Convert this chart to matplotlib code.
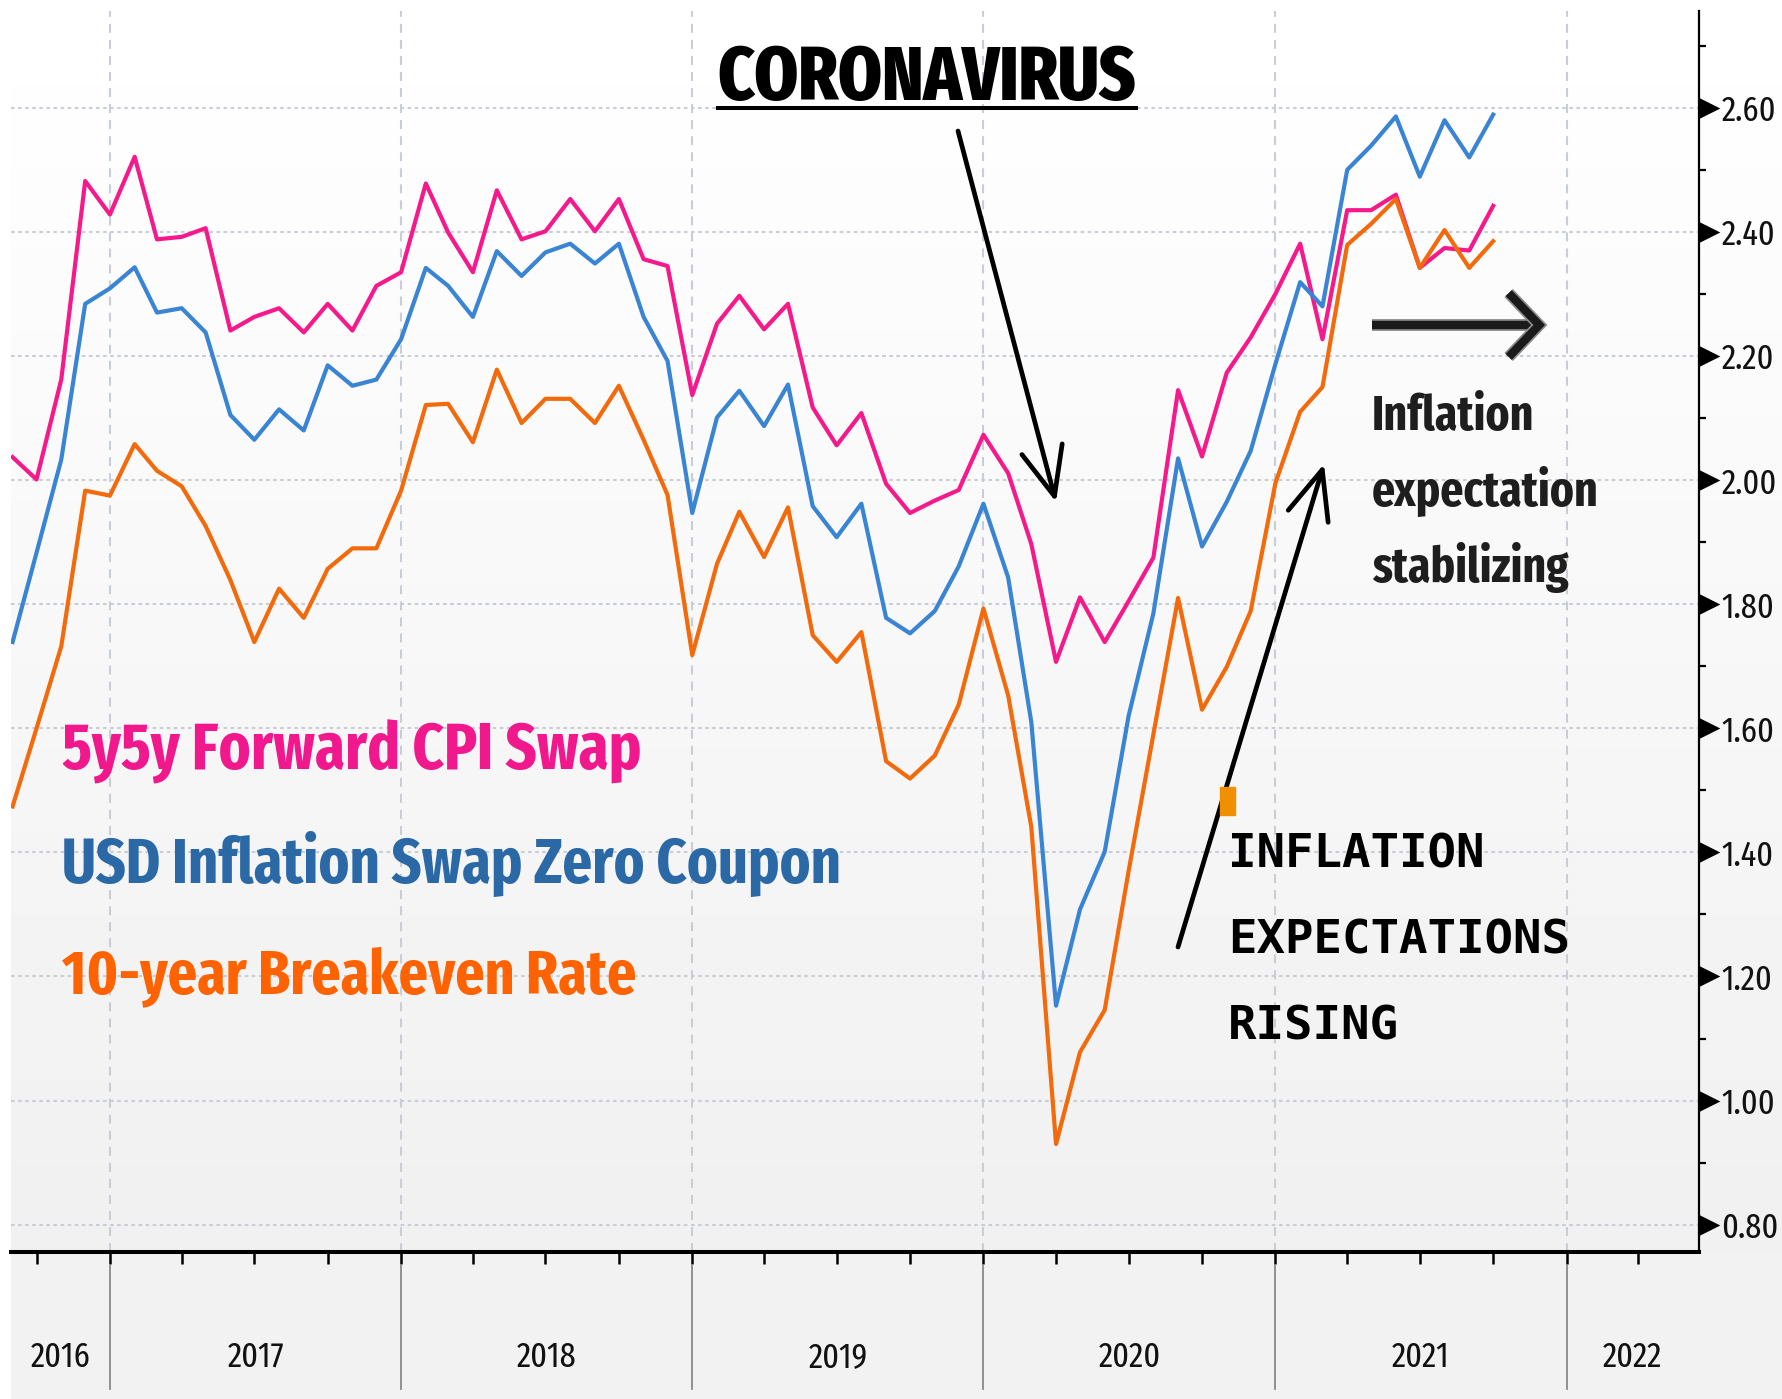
import numpy as np
import pandas as pd
import matplotlib
matplotlib.use('Agg')
import matplotlib.pyplot as plt
import matplotlib.dates as mdates
import matplotlib.transforms as mtransforms
import matplotlib.patheffects as pe
from matplotlib import font_manager
from matplotlib.path import Path
from matplotlib.patches import Rectangle
from matplotlib.lines import Line2D

# ---data--- #
months = pd.date_range('2016-09-01', periods=62, freq='MS')

fwd_5y5y = [2.037, 2.001, 2.162, 2.482, 2.428, 2.521, 2.388, 2.392, 2.406, 2.241,
            2.263, 2.277, 2.238, 2.284, 2.241, 2.313, 2.335, 2.478, 2.399, 2.335,
            2.467, 2.388, 2.401, 2.453, 2.401, 2.453, 2.356, 2.345, 2.137, 2.252,
            2.297, 2.243, 2.284, 2.117, 2.056, 2.108, 1.994, 1.947, 1.967, 1.984,
            2.073, 2.011, 1.897, 1.707, 1.811, 1.739, 1.805, 1.875, 2.145, 2.038,
            2.173, 2.230, 2.300, 2.381, 2.227, 2.435, 2.435, 2.460, 2.342, 2.374,
            2.370, 2.442]

zero_coupon = [1.739, 1.883, 2.033, 2.284, 2.309, 2.343, 2.270, 2.277, 2.238, 2.105,
               2.065, 2.114, 2.080, 2.185, 2.152, 2.162, 2.227, 2.342, 2.313, 2.263,
               2.369, 2.329, 2.367, 2.381, 2.349, 2.381, 2.263, 2.192, 1.947, 2.101,
               2.144, 2.087, 2.154, 1.958, 1.908, 1.962, 1.778, 1.753, 1.789, 1.861,
               1.962, 1.843, 1.610, 1.153, 1.308, 1.401, 1.620, 1.785, 2.035, 1.893,
               1.965, 2.047, 2.187, 2.319, 2.280, 2.500, 2.539, 2.586, 2.489, 2.580,
               2.520, 2.589]

breakeven_10y = [1.474, 1.600, 1.732, 1.983, 1.975, 2.058, 2.015, 1.990, 1.926, 1.839,
                 1.739, 1.825, 1.778, 1.857, 1.890, 1.890, 1.983, 2.121, 2.123, 2.061,
                 2.178, 2.092, 2.131, 2.131, 2.092, 2.152, 2.065, 1.976, 1.718, 1.865,
                 1.949, 1.876, 1.956, 1.750, 1.707, 1.755, 1.547, 1.519, 1.556, 1.638,
                 1.793, 1.653, 1.441, 0.930, 1.078, 1.146, 1.370, 1.590, 1.810, 1.630,
                 1.699, 1.789, 1.995, 2.110, 2.150, 2.379, 2.413, 2.453, 2.342, 2.403,
                 2.342, 2.385]

series_names = ['5y5y Forward CPI Swap', 'USD Inflation Swap Zero Coupon',
                '10-year Breakeven Rate']
years = [2016, 2017, 2018, 2019, 2020, 2021, 2022]
ytick_values = [0.80, 1.00, 1.20, 1.40, 1.60, 1.80, 2.00, 2.20, 2.40, 2.60]
yminor_values = [0.90, 1.10, 1.30, 1.50, 1.70, 1.90, 2.10, 2.30, 2.50, 2.70]

# ---style--- #
W, H = 1782, 1399
PINK, BLUE, ORANGE = '#f5198c', '#3a84d4', '#f26a0c'
PINK_TXT, BLUE_TXT, ORANGE_TXT = '#f0188c', '#2a68a6', '#ff6200'
GRID = '#c9cdd6'

installed = {f.name for f in font_manager.fontManager.ttflist}


def pick(cands):
    for c in cands:
        if c in installed:
            return c
    return 'DejaVu Sans'


COND = pick(['Fira Sans Extra Condensed', 'Roboto Condensed', 'Liberation Sans Narrow'])
MONO = pick(['DejaVu Sans Mono', 'Liberation Mono'])


def fig_xy(px, py):
    # pixel position measured from top-left -> figure fraction
    return px / W, 1 - py / H


fig = plt.figure(figsize=(W / 100, H / 100), dpi=100, facecolor='white')

# background gradient (white at top -> light grey at the bottom)
bg = fig.add_axes([11 / W, 0, 1 - 11 / W, 1], zorder=-10)
rows = np.arange(H)
shade = np.where(rows < 1252, 255 - 15 * rows / 1252, 242) / 255.0
bg.imshow(np.repeat(shade[:, None], 2, axis=1), cmap='gray', vmin=0, vmax=1,
          aspect='auto', extent=[0, 1, 0, 1], origin='upper')
bg.set_axis_off()

ax = fig.add_axes([11 / W, (H - 1252) / H, (1699 - 11) / W, (1252 - 11) / H])
ax.patch.set_alpha(0)

ax.plot(months, fwd_5y5y, color=PINK, lw=3.0, zorder=3)
ax.plot(months, zero_coupon, color=BLUE, lw=3.0, zorder=3)
ax.plot(months, breakeven_10y, color=ORANGE, lw=3.0, zorder=3)

x0 = mdates.date2num(pd.Timestamp('2016-08-30'))
x1 = mdates.date2num(pd.Timestamp('2022-06-16'))
ax.set_xlim(x0, x1)
ax.set_ylim(0.756, 2.756)

for side in ['top', 'left']:
    ax.spines[side].set_visible(False)
ax.spines['right'].set_linewidth(1.6)
ax.spines['bottom'].set_linewidth(2.9)

# y axis on the right
ax.yaxis.tick_right()
ax.set_yticks(ytick_values)
ax.set_yticks(yminor_values, minor=True)
ax.set_yticklabels(['%.2f' % v for v in ytick_values])
ax.tick_params(axis='y', which='major', length=0, pad=16, labelsize=25,
               labelcolor='#111111')
ax.tick_params(axis='y', which='minor', length=5, width=1.6, color='black',
               direction='out')
for lab in ax.get_yticklabels():
    lab.set_family(COND)

tri = Path([(0, -0.5), (1, 0), (0, 0.5), (0, -0.5)], closed=True)
ax.plot([1] * len(ytick_values), ytick_values, linestyle='none', marker=tri,
        markersize=30, markeredgewidth=0, color='black', clip_on=False,
        transform=mtransforms.blended_transform_factory(ax.transAxes, ax.transData))

# x axis: quarterly ticks, year separators, year labels
ax.xaxis.set_major_locator(mdates.YearLocator())
ax.xaxis.set_minor_locator(mdates.MonthLocator(bymonth=[4, 7, 10]))
ax.xaxis.set_major_formatter(plt.NullFormatter())
ax.tick_params(axis='x', which='both', length=8.6, width=1.8, color='black',
               direction='out')

ax.grid(which='major', axis='y', color=GRID, lw=1.5, linestyle=(0, (1.7, 1.7)))
ax.grid(which='major', axis='x', color=GRID, lw=1.5, linestyle=(0, (4.3, 3.4)))
ax.set_axisbelow(True)

xtrans = mtransforms.blended_transform_factory(ax.transData, ax.transAxes)
year_texts = []
for yr in years:
    start = max(mdates.date2num(pd.Timestamp(f'{yr}-01-01')), x0)
    end = min(mdates.date2num(pd.Timestamp(f'{yr + 1}-01-01')), x1)
    if yr > years[0]:
        ax.plot([start, start], [-0.0105, -0.1104], color='#808080', lw=1.2,
                clip_on=False, transform=xtrans)
    year_texts.append(ax.text((start + end) / 2, -0.0846, str(yr), transform=xtrans,
                              ha='center', va='center', fontsize=25, family=COND,
                              color='#111111'))

# series names
name_texts = []
for name, col, base in zip(series_names, [PINK_TXT, BLUE_TXT, ORANGE_TXT],
                           [769, 883, 993]):
    name_texts.append(fig.text(*fig_xy(62, base), name, color=col, fontsize=43,
                               fontweight='bold', family=COND, va='baseline',
                               ha='left'))

# annotations
title = fig.text(*fig_xy(927, 100), 'CORONAVIRUS', fontsize=49, fontweight='heavy',
                 family=COND, ha='center', va='baseline', color='black')

stab_texts = []
for i, line in enumerate(['Inflation', 'expectation', 'stabilizing']):
    stab_texts.append(fig.text(*fig_xy(1372, [430, 506, 582][i]), line, fontsize=37,
                               fontweight='bold', family=COND, va='baseline',
                               color='#1e1e1e'))

rise_texts = []
for i, line in enumerate(['INFLATION', 'EXPECTATIONS', 'RISING']):
    rise_texts.append(fig.text(*fig_xy(1228, [867, 953, 1039][i]), line, fontsize=33,
                               fontweight='bold', family=MONO, va='baseline',
                               color='black'))

fig.patches.append(Rectangle(fig_xy(1220, 815), 15 / W, 28 / H,
                             transform=fig.transFigure, color='#f09000', zorder=5))

thin = dict(arrowstyle='->,head_length=3.5,head_width=1.5', lw=3.4, color='black',
            shrinkA=0, shrinkB=0, mutation_scale=10)
ax.annotate('', xy=(1056, H - 502), xytext=(958, H - 131), xycoords='figure pixels',
            textcoords='figure pixels', arrowprops=thin)
ax.annotate('', xy=(1324, H - 464), xytext=(1178, H - 947), xycoords='figure pixels',
            textcoords='figure pixels', arrowprops=thin)
thick = dict(arrowstyle='->,head_length=2.2,head_width=2.3', lw=6.0, color='#1a1a1a',
             shrinkA=0, shrinkB=0, mutation_scale=10, joinstyle='miter',
             capstyle='butt',
             path_effects=[pe.Stroke(linewidth=8.5, foreground='#8a8a8a'), pe.Normal()])
ax.annotate('', xy=(1545, H - 325), xytext=(1372, H - 325), xycoords='figure pixels',
            textcoords='figure pixels', arrowprops=thick)

# size the texts so that their widths match the reference
fig.canvas.draw()
renderer = fig.canvas.get_renderer()


def fit(t, width):
    w = t.get_window_extent(renderer).width
    size = t.get_fontsize() * width / w
    t.set_fontsize(size)
    return size


tick_size = fit(ax.get_yticklabels()[-1], 55)
ax.tick_params(axis='y', which='major', labelsize=tick_size)
for t in year_texts:
    t.set_fontsize(tick_size)
for t, w in zip(name_texts, [578, 777, 574]):
    fit(t, w)
fit(title, 419)
s = fit(stab_texts[1], 227)
for t in stab_texts:
    t.set_fontsize(s)
s = fit(rise_texts[1], 343)
for t in rise_texts:
    t.set_fontsize(s)

# underline under the title
fig.canvas.draw()
bb = title.get_window_extent(renderer)
fig.add_artist(Line2D([bb.x0 / W, bb.x1 / W], [(H - 108) / H] * 2, color='black',
                      lw=2.9, transform=fig.transFigure))

fig.savefig('out.png', dpi=100)
